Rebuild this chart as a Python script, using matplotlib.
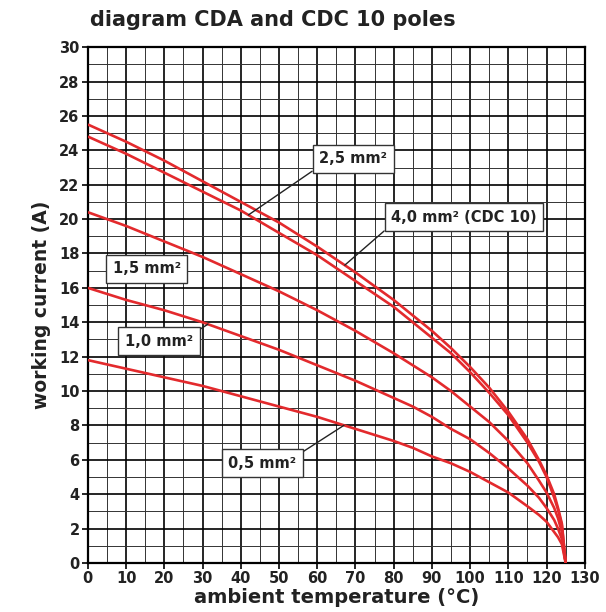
import numpy as np
import matplotlib
matplotlib.use('Agg')
import matplotlib.pyplot as plt
from matplotlib.ticker import MultipleLocator

plt.rcParams['font.family'] = ['DejaVu Sans']
plt.rcParams['font.weight'] = 'bold'

# temperatures (deg C) and working current (A)
temp = [0, 10, 20, 30, 40, 50, 60, 70, 80, 85, 90, 95, 100, 105, 110, 115, 118, 120, 122, 123, 124, 125]
i_05 = [11.8, 11.3, 10.8, 10.3, 9.7, 9.1, 8.5, 7.8, 7.1, 6.7, 6.2, 5.8, 5.3, 4.7, 4.1, 3.3, 2.8, 2.4, 1.8, 1.5, 1.1, 0]
i_10 = [16.0, 15.3, 14.7, 14.0, 13.2, 12.4, 11.5, 10.6, 9.6, 9.1, 8.5, 7.8, 7.2, 6.4, 5.5, 4.5, 3.8, 3.2, 2.5, 2.0, 1.4, 0]
i_15 = [20.4, 19.6, 18.7, 17.8, 16.8, 15.8, 14.7, 13.5, 12.2, 11.5, 10.8, 10.0, 9.1, 8.2, 7.1, 5.8, 4.8, 4.1, 3.2, 2.6, 1.8, 0]
i_25 = [24.8, 23.8, 22.7, 21.6, 20.5, 19.2, 17.9, 16.4, 14.9, 14.0, 13.1, 12.2, 11.1, 9.9, 8.6, 7.0, 5.9, 5.0, 3.8, 3.1, 2.2, 0]
i_40 = [25.5, 24.5, 23.4, 22.2, 21.0, 19.8, 18.4, 16.9, 15.3, 14.4, 13.5, 12.5, 11.4, 10.2, 8.8, 7.2, 6.0, 5.1, 4.0, 3.2, 2.3, 0]

series = [i_05, i_10, i_15, i_25, i_40]
labels = ['0,5 mm²', '1,0 mm²', '1,5 mm²', '2,5 mm²', '4,0 mm² (CDC 10)']
# label box centre and where its leader line touches the curve (None = no leader)
box_pos = [(45.7, 5.8), (18.6, 12.9), (15.4, 17.1), (69.4, 23.5), (98.4, 20.1)]
leader_x = [67, 31.4, None, 42, 67.2]
leader_rel = [(1, 1), (1, 1), None, (0, 0), (0, 0)]

red = '#e32a2d'

fig = plt.figure(figsize=(6.06, 6.12), dpi=100)
ax = fig.add_axes([0.145, 0.080, 0.820, 0.843])

for s in series:
    ax.plot(temp, s, color=red, lw=1.9, solid_capstyle='butt', zorder=3)

ax.set_xlim(0, 130)
ax.set_ylim(0, 30)
ax.xaxis.set_major_locator(MultipleLocator(10))
ax.xaxis.set_minor_locator(MultipleLocator(5))
ax.yaxis.set_major_locator(MultipleLocator(2))
ax.yaxis.set_minor_locator(MultipleLocator(1))
ax.grid(which='major', color='black', lw=1.2)
ax.grid(which='minor', color='#333333', lw=0.7)
ax.set_axisbelow(True)
for sp in ax.spines.values():
    sp.set_linewidth(1.6)
ax.tick_params(which='major', length=4, width=1.2, labelsize=10.5, pad=2)
ax.tick_params(which='minor', length=0)
for t in ax.get_xticklabels() + ax.get_yticklabels():
    t.set_fontweight('bold')
    t.set_color('#222222')

for lab, (bx, by), lx, rel, s in zip(labels, box_pos, leader_x, leader_rel, series):
    box = dict(boxstyle='square,pad=0.45', fc='white', ec='#333333', lw=1.0)
    if lx is None:
        ax.text(bx, by, lab, ha='center', va='center', fontsize=10.5,
                fontweight='bold', color='#222222', bbox=box, zorder=5)
    else:
        ly = np.interp(lx, temp, s)
        ax.annotate(lab, xy=(lx, ly), xytext=(bx, by), ha='center', va='center',
                    fontsize=10.5, fontweight='bold', color='#222222', bbox=box,
                    arrowprops=dict(arrowstyle='-', color='#222222', lw=1.0,
                                    relpos=rel, shrinkA=0, shrinkB=0),
                    zorder=5)

fig.text(0.148, 0.968, 'diagram CDA and CDC 10 poles', fontsize=15,
         fontweight='bold', color='#222222', ha='left', va='center')
ax.set_xlabel('ambient temperature (°C)', fontsize=14, fontweight='bold',
              color='#222222', labelpad=1)
ax.set_ylabel('working current (A)', fontsize=13.5, fontweight='bold',
              color='#222222', labelpad=6)

fig.savefig('out.png', dpi=100)
